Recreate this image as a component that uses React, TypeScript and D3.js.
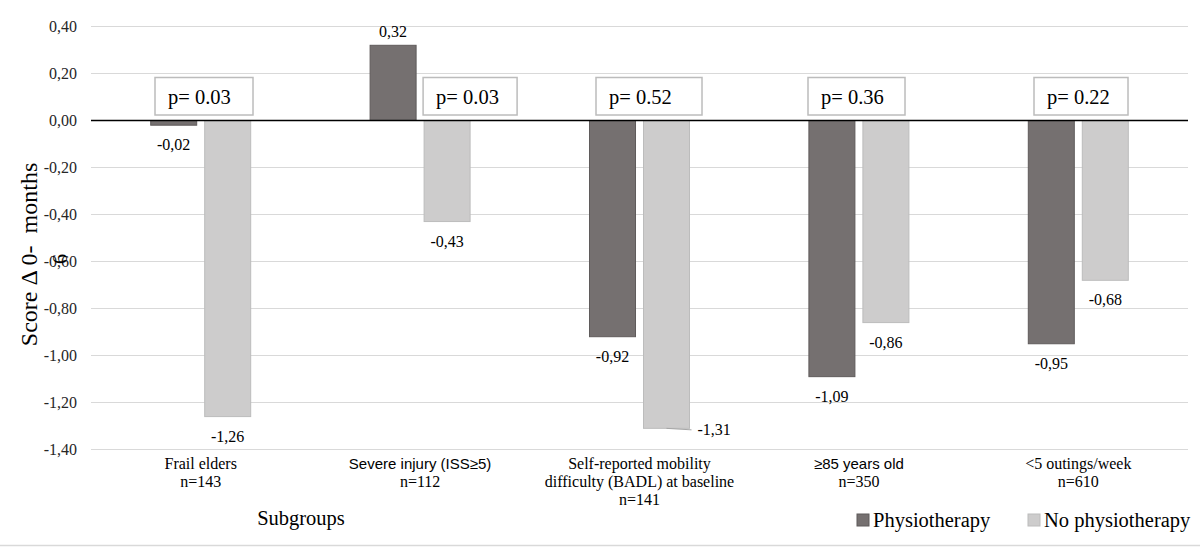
import React from "react";
import * as d3 from "d3";

// ---- data ----
const categoryLines: string[][] = [
  ["Frail elders"],
  ["Severe injury (ISS≥5)"],
  ["Self-reported mobility", "difficulty (BADL) at baseline"],
  ["≥85 years old"],
  ["<5 outings/week"],
];
const categories: string[] = categoryLines.map((l) => l.join(" "));
const sampleSizes: string[] = ["n=143", "n=112", "n=141", "n=350", "n=610"];
const seriesNames: string[] = ["Physiotherapy", "No physiotherapy"];
const physioValues: number[] = [-0.02, 0.32, -0.92, -1.09, -0.95];
const noPhysioValues: number[] = [-1.26, -0.43, -1.31, -0.86, -0.68];
const pValueLabels: string[] = ["p= 0.03", "p= 0.03", "p= 0.52", "p= 0.36", "p= 0.22"];
const yTickValues: number[] = [0.4, 0.2, 0, -0.2, -0.4, -0.6, -0.8, -1.0, -1.2, -1.4];

// ---- layout / style (not data) ----
const W = 1200;
const H = 547;
const plotLeft = 91;
const plotRight = 1188;
const plotTop = 26.5;
const plotBottom = 449.5;
const serif = "Liberation Serif, Times New Roman, DejaVu Serif, serif";
const sans = "Liberation Sans, Arial, sans-serif";
const sansCategoryIdx = new Set([1, 3]);
const darkFill = "#757070";
const darkStroke = "#5f5b5b";
const lightFill = "#cdcccc";
const lightStroke = "#bcbcbc";
// p-value annotation boxes: offset of box center from category center, and width
const pBoxOffset = [3.3, 50, 9.5, -2.4, 2.7];
const pBoxWidth = [98, 94, 106, 97, 94];

const locale = d3.formatLocale({
  decimal: ",",
  thousands: ".",
  grouping: [3],
  currency: ["", ""],
  minus: "-",
});
const fmt = locale.format(".2f");

export default function App() {
  const y = d3.scaleLinear().domain([-1.4, 0.4]).range([plotBottom, plotTop]);
  const x0 = d3.scaleBand<string>().domain(categories).range([plotLeft, plotRight]).padding(0);
  const x1 = d3.scaleBand<string>().domain(seriesNames).range([-50, 50]).paddingInner(0.148);
  const cx = (c: string) => (x0(c) as number) + x0.bandwidth() / 2;
  const bw = x1.bandwidth();
  const seriesValues = [physioValues, noPhysioValues];
  const fills = [darkFill, lightFill];
  const strokes = [darkStroke, lightStroke];
  const y0 = y(0);
  const serifStyle = { fontFamily: serif };
  const sansStyle = { fontFamily: sans };

  const bars: React.ReactNode[] = [];
  const labels: React.ReactNode[] = [];
  seriesNames.forEach((s, si) => {
    seriesValues[si].forEach((v, i) => {
      const c = categories[i];
      const bx = cx(c) + (x1(s) as number);
      const yv = y(v);
      bars.push(
        <rect
          key={`b${si}-${i}`}
          x={bx}
          y={Math.min(y0, yv)}
          width={bw}
          height={Math.abs(yv - y0)}
          fill={fills[si]}
          stroke={strokes[si]}
          strokeWidth={1}
        />
      );
      const mid = bx + bw / 2;
      if (v >= 0) {
        labels.push(
          <text key={`l${si}-${i}`} x={mid} y={yv - 8} textAnchor="middle" fontSize={16} style={serifStyle} fill="#000">
            {fmt(v)}
          </text>
        );
      } else {
        const center = yv + 19.5;
        if (center + 8 > plotBottom) {
          labels.push(
            <g key={`l${si}-${i}`}>
              <line x1={mid} y1={yv} x2={bx + bw + 2} y2={yv + 1.5} stroke="#a6a6a6" strokeWidth={1} />
              <text x={bx + bw + 8} y={yv + 7} textAnchor="start" fontSize={16} style={serifStyle} fill="#000">
                {fmt(v)}
              </text>
            </g>
          );
        } else {
          labels.push(
            <text key={`l${si}-${i}`} x={mid} y={center + 5.5} textAnchor="middle" fontSize={16} style={serifStyle} fill="#000">
              {fmt(v)}
            </text>
          );
        }
      }
    });
  });

  return (
    <svg width={W} height={H} style={{ position: "absolute", left: 0, top: 0, display: "block", fontFamily: serif }}>
      <rect x={0} y={0} width={W} height={H} fill="#fff" />
      {yTickValues.map((t) =>
        t === 0 ? null : (
          <line key={`g${t}`} x1={plotLeft} x2={plotRight} y1={y(t)} y2={y(t)} stroke="#d9d9d9" strokeWidth={1} />
        )
      )}
      {yTickValues.map((t) => (
        <text key={`t${t}`} x={77} y={y(t) + 5.5} textAnchor="end" fontSize={16} style={serifStyle} fill="#262626">
          {fmt(t)}
        </text>
      ))}
      {bars}
      <line x1={plotLeft} x2={plotRight} y1={y0} y2={y0} stroke="#000" strokeWidth={1.5} />
      {labels}
      {categories.map((c, i) => {
        const w = pBoxWidth[i];
        const bxl = cx(c) + pBoxOffset[i] - w / 2;
        return (
          <g key={`p${i}`}>
            <rect x={bxl} y={77.5} width={w} height={37.5} fill="#fff" stroke={lightStroke} strokeWidth={1.5} />
            <text x={bxl + 13} y={104} fontSize={20.5} style={serifStyle} fill="#000">
              {pValueLabels[i]}
            </text>
          </g>
        );
      })}
      {categories.map((c, i) => {
        const lines = [...categoryLines[i], sampleSizes[i]];
        return lines.map((ln, li) => {
          const isSans = li < categoryLines[i].length && sansCategoryIdx.has(i);
          return (
            <text
              key={`c${i}-${li}`}
              x={cx(c)}
              y={469 + li * 18}
              textAnchor="middle"
              fontSize={isSans ? 15 : 16}
              style={isSans ? sansStyle : serifStyle}
              fill="#000"
            >
              {ln}
            </text>
          );
        });
      })}
      <text
        transform={`translate(37,254.5) rotate(-90)`}
        textAnchor="middle"
        fontSize={24}
        fill="#000"
        style={{ whiteSpace: "pre", fontFamily: serif }}
      >
        {"Score Δ 0-  months"}
      </text>
      <text transform={`translate(67,259) rotate(-90)`} textAnchor="middle" fontSize={20} style={serifStyle} fill="#000">
        6
      </text>
      <text x={301} y={525} textAnchor="middle" fontSize={20.5} style={serifStyle} fill="#000">
        Subgroups
      </text>
      {seriesNames.map((s, si) => {
        const lx = si === 0 ? 857 : 1028;
        return (
          <g key={`lg${si}`}>
            <rect x={lx} y={514} width={12} height={12} fill={fills[si]} stroke={strokes[si]} strokeWidth={1} />
            <text x={lx + 16} y={527} fontSize={20.5} style={serifStyle} fill="#000">
              {s}
            </text>
          </g>
        );
      })}
      <line x1={0} x2={W} y1={545.5} y2={545.5} stroke="#d9d9d9" strokeWidth={1.5} />
    </svg>
  );
}
